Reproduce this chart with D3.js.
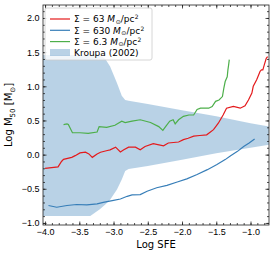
<!DOCTYPE html>
<html>
<head>
    <meta charset="utf-8">
    <style>
        body { margin: 0; background: #fff; }
        svg { font-family: "DejaVu Sans", sans-serif; }
        .tick text { font-size: 9px; fill: #000; }
        .axis path, .axis line { stroke: #222; stroke-width: 0.8; }
        .series { fill: none; stroke-width: 1.2; }
    </style>
    <script src="https://d3js.org/d3.v7.min.js"></script>
</head>
<body>
    <svg width="274" height="254"></svg>
    <script>
        // Kroupa (2002) band
        let bandX = [-4.03, -3.34, -3.20, -3.12, -3.05, -2.95, -2.88, -2.83, -2.78, -2.5, -2.0, -1.5, -1.0, -0.73];
        let bandHigh = [1.46, 1.46, 1.46, 1.40, 1.29, 1.05, 0.86, 0.80, 0.79, 0.74, 0.65, 0.56, 0.46, 0.41];
        let bandLow = [-0.90, -0.90, -0.80, -0.73, -0.66, -0.51, -0.365, -0.24, -0.21, -0.165, -0.075, 0.02, 0.10, 0.146];

        // Sigma = 63
        let redX = [-4.00, -3.81, -3.76, -3.73, -3.61, -3.56, -3.49, -3.41, -3.36, -3.31, -3.24, -3.19, -3.09, -3.05, -2.97, -2.90, -2.85, -2.78, -2.68, -2.61, -2.54, -2.42, -2.27, -2.20, -2.05, -1.98, -1.91, -1.83, -1.74, -1.64, -1.54, -1.47, -1.40, -1.35, -1.25, -1.15, -1.08, -1.03, -0.98, -0.96, -0.91, -0.88, -0.86, -0.84, -0.82, -0.80, -0.77, -0.75];
        let redY = [-0.20, -0.18, -0.10, -0.07, -0.04, -0.015, 0.025, 0.035, 0.01, -0.04, 0.01, 0.035, 0.06, 0.07, 0.11, 0.04, 0.07, 0.11, 0.11, 0.07, 0.12, 0.16, 0.13, 0.17, 0.185, 0.22, 0.24, 0.27, 0.28, 0.29, 0.365, 0.46, 0.58, 0.68, 0.705, 0.68, 0.715, 0.80, 0.90, 1.00, 1.095, 1.17, 1.22, 1.24, 1.24, 1.31, 1.41, 1.435];

        // Sigma = 630
        let blueX = [-3.95, -3.83, -3.68, -3.54, -3.39, -3.24, -3.15, -3.00, -2.90, -2.80, -2.73, -2.61, -2.51, -2.37, -2.22, -2.07, -1.93, -1.78, -1.63, -1.49, -1.37, -1.29, -1.19, -1.10, -1.02, -0.94];
        let blueY = [-0.745, -0.77, -0.745, -0.73, -0.735, -0.72, -0.70, -0.67, -0.65, -0.61, -0.59, -0.585, -0.535, -0.485, -0.45, -0.40, -0.355, -0.29, -0.22, -0.146, -0.073, -0.015, 0.048, 0.12, 0.17, 0.23];

        // Sigma = 6.3
        let greenX = [-3.73, -3.68, -3.66, -3.60, -3.49, -3.37, -3.24, -3.21, -3.10, -2.98, -2.88, -2.83, -2.73, -2.61, -2.46, -2.34, -2.28, -2.24, -2.18, -2.13, -2.10, -2.05, -1.98, -1.90, -1.83, -1.78, -1.73, -1.61, -1.56, -1.51, -1.46, -1.41, -1.39, -1.37, -1.34, -1.33, -1.32, -1.31];
        let greenY = [0.44, 0.45, 0.44, 0.32, 0.32, 0.31, 0.33, 0.41, 0.40, 0.43, 0.49, 0.47, 0.49, 0.51, 0.47, 0.41, 0.355, 0.41, 0.49, 0.51, 0.45, 0.51, 0.56, 0.58, 0.58, 0.66, 0.68, 0.68, 0.705, 0.78, 0.80, 0.85, 0.97, 1.07, 1.14, 1.24, 1.31, 1.39];

        let xTicks = [-4.0, -3.5, -3.0, -2.5, -2.0, -1.5, -1.0];
        let yTicks = [-1.0, -0.5, 0.0, 0.5, 1.0, 1.5, 2.0];

        let svg = d3.select("svg");
        let mLeft = 43, mRight = 269, mTop = 5, mBottom = 225;

        let x = d3.scaleLinear().domain([-4.03, -0.73]).range([mLeft, mRight]);
        let y = d3.scaleLinear().domain([-1.03, 2.19]).range([mBottom, mTop]);

        svg.append("clipPath").attr("id", "clip")
            .append("rect").attr("x", mLeft).attr("y", mTop)
            .attr("width", mRight - mLeft).attr("height", mBottom - mTop);

        let plot = svg.append("g").attr("clip-path", "url(#clip)");

        let band = bandX.map((d, i) => ({x: d, lo: bandLow[i], hi: bandHigh[i]}));
        let area = d3.area()
            .x(d => x(d.x))
            .y0(d => y(d.lo))
            .y1(d => y(d.hi));

        plot.append("path")
            .attr("d", area(band))
            .style("fill", "#377eb8")
            .style("fill-opacity", 0.35);

        let line = d3.line().x(d => x(d[0])).y(d => y(d[1]));
        let series = [
            {xs: redX, ys: redY, color: "#e41a1c"},
            {xs: blueX, ys: blueY, color: "#377eb8"},
            {xs: greenX, ys: greenY, color: "#4daf4a"}
        ];
        series.forEach(s => {
            plot.append("path")
                .attr("class", "series")
                .attr("d", line(s.xs.map((v, i) => [v, s.ys[i]])))
                .style("stroke", s.color);
        });

        // axes, ticks pointing inward on all four sides
        let fmt = d3.format(".1f");
        let minorX = d3.range(-40, -7).map(v => v / 10);
        let minorY = d3.range(-10, 22).map(v => v / 10);

        function addAxis(axis, tx, ty) {
            let g = svg.append("g").attr("class", "axis")
                .attr("transform", "translate(" + tx + "," + ty + ")")
                .call(axis);
            g.select(".domain").remove();
            return g;
        }

        addAxis(d3.axisBottom(x).tickValues(minorX).tickSize(-2).tickFormat(""), 0, mBottom);
        addAxis(d3.axisTop(x).tickValues(minorX).tickSize(-2).tickFormat(""), 0, mTop);
        addAxis(d3.axisLeft(y).tickValues(minorY).tickSize(-2).tickFormat(""), mLeft, 0);
        addAxis(d3.axisRight(y).tickValues(minorY).tickSize(-2).tickFormat(""), mRight, 0);

        addAxis(d3.axisBottom(x).tickValues(xTicks).tickSize(-3.5).tickPadding(3.5)
            .tickFormat(d => fmt(d).replace("-", "\u2212")), 0, mBottom);
        addAxis(d3.axisTop(x).tickValues(xTicks).tickSize(-3.5).tickFormat(""), 0, mTop);
        addAxis(d3.axisLeft(y).tickValues(yTicks).tickSize(-3.5).tickPadding(3.5)
            .tickFormat(d => fmt(d).replace("-", "\u2212")), mLeft, 0);
        addAxis(d3.axisRight(y).tickValues(yTicks).tickSize(-3.5).tickFormat(""), mRight, 0);

        svg.append("rect")
            .attr("x", mLeft).attr("y", mTop)
            .attr("width", mRight - mLeft).attr("height", mBottom - mTop)
            .style("fill", "none").style("stroke", "#222").style("stroke-width", 0.8);

        // axis labels
        svg.append("text")
            .attr("x", (mLeft + mRight) / 2).attr("y", 248)
            .attr("text-anchor", "middle")
            .style("font-size", "10px")
            .text("Log SFE");

        let yl = svg.append("text")
            .attr("transform", "translate(12," + ((mTop + mBottom) / 2) + ") rotate(-90)")
            .attr("text-anchor", "middle")
            .style("font-size", "10px");
        yl.append("tspan").text("Log M");
        yl.append("tspan").attr("dy", 2.5).style("font-size", "7px").text("50");
        yl.append("tspan").attr("dy", -2.5).text(" [M");
        yl.append("tspan").attr("dy", 2.5).style("font-size", "7px").text("\u2299");
        yl.append("tspan").attr("dy", -2.5).text("]");

        // legend
        let legend = svg.append("g").attr("transform", "translate(45,8)");
        legend.append("rect")
            .attr("width", 107).attr("height", 52).attr("rx", 2)
            .style("fill", "#fff").style("fill-opacity", 0.8)
            .style("stroke", "#ccc").style("stroke-width", 0.8);

        let labels = [
            {sigma: "63", color: "#e41a1c"},
            {sigma: "630", color: "#377eb8"},
            {sigma: "6.3", color: "#4daf4a"}
        ];
        labels.forEach((d, i) => {
            let yy = 11 + i * 11.3;
            legend.append("line")
                .attr("x1", 5).attr("x2", 25).attr("y1", yy).attr("y2", yy)
                .style("stroke", d.color).style("stroke-width", 1.2);
            let t = legend.append("text").attr("x", 29).attr("y", yy + 3.3).style("font-size", "9px");
            t.append("tspan").text("\u03a3 = " + d.sigma + " ");
            t.append("tspan").style("font-style", "italic").text("M");
            t.append("tspan").attr("dx", 0.6).attr("dy", 1.5).style("font-size", "6px").text("\u2299");
            t.append("tspan").attr("dy", -1.5).text("/pc");
            t.append("tspan").attr("dx", 0.3).attr("dy", -3).style("font-size", "6px").text("2");
        });
        legend.append("rect")
            .attr("x", 5).attr("y", 41).attr("width", 20).attr("height", 7)
            .style("fill", "#377eb8").style("fill-opacity", 0.35);
        legend.append("text").attr("x", 29).attr("y", 48).style("font-size", "9px")
            .text("Kroupa (2002)");
    </script>
</body>
</html>
